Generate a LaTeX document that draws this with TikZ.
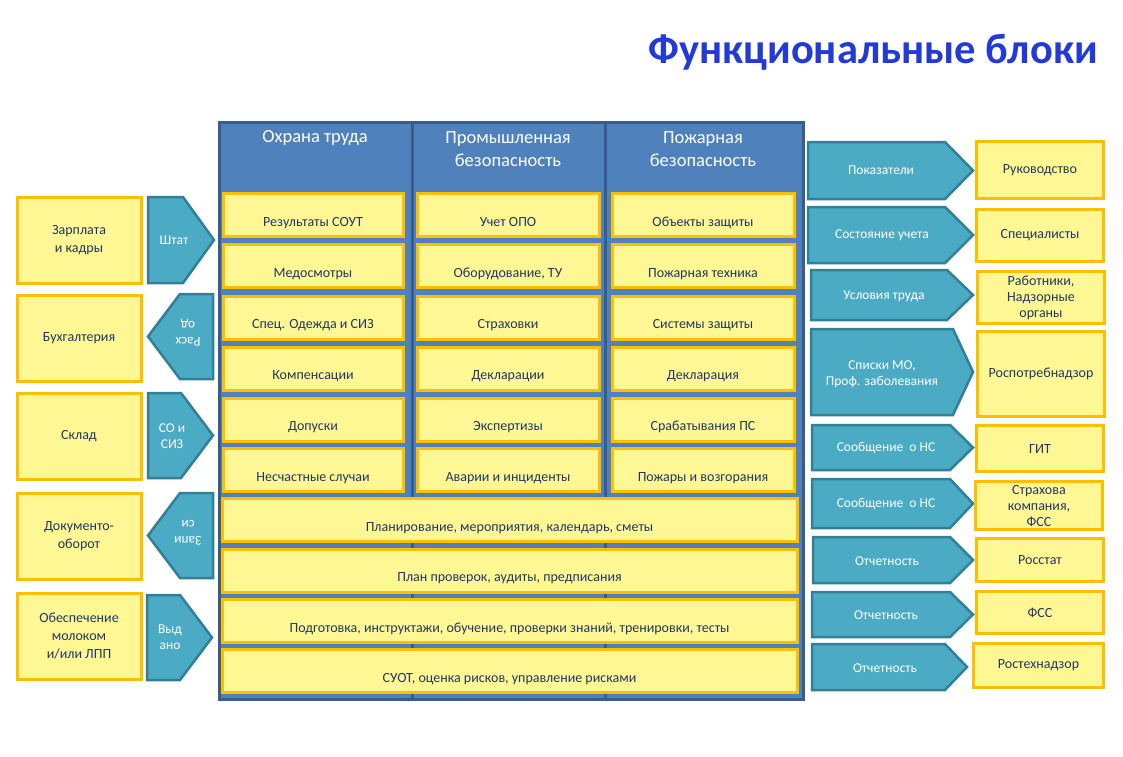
\documentclass[tikz,border=0pt]{standalone}
\usepackage{fontspec}
\setmainfont{Carlito}
\definecolor{panelblue}{RGB}{79,129,189}
\definecolor{paneledge}{RGB}{56,93,138}
\definecolor{yfill}{RGB}{255,246,148}
\definecolor{yedge}{RGB}{255,190,0}
\definecolor{tfill}{RGB}{75,170,196}
\definecolor{tedge}{RGB}{49,128,150}
\definecolor{navy}{RGB}{31,56,100}
\definecolor{titleblue}{RGB}{34,58,216}
\newcommand\myRarrow[5]{\filldraw[tshape] (#1,#4) -- (#2,#4) -- (#3,{(#4+#5)/2}) -- (#2,#5) -- (#1,#5) -- cycle;}
\newcommand\myLarrow[5]{\filldraw[tshape] (#3,#4) -- (#2,#4) -- (#1,{(#4+#5)/2}) -- (#2,#5) -- (#3,#5) -- cycle;}
\tikzset{
  ybox/.style={draw=yedge, fill=yfill, line width=3pt, text=navy, align=center, inner sep=0pt,
    font=\fontsize{14}{16}\selectfont},
  pbox/.style={ybox, minimum height=43, text height=22pt, text depth=0pt},
  wbox/.style={pbox, minimum width=575},
  lbox/.style={ybox, minimum width=124, minimum height=86, font=\fontsize{14}{18}\selectfont},
  rbox/.style={ybox, font=\fontsize{14}{16}\selectfont},
  tshape/.style={draw=tedge, fill=tfill, line width=2.5pt, line join=miter},
  ttext/.style={text=white, align=center, inner sep=0pt, font=\fontsize{13.5}{16}\selectfont},
  htext/.style={text=white, align=center, inner sep=0pt, font=\fontsize{18.5}{23}\selectfont}
}
\begin{document}
\begin{tikzpicture}[x=1pt, y=-1pt]
\useasboundingbox (0,0) rectangle (1123,756);

% title
\node[text=titleblue, font=\fontsize{42.5}{46}\selectfont\bfseries] (title) at (873,52) {Функциональные блоки};

% central panel
\node[draw=paneledge, fill=panelblue, line width=3pt, minimum width=584, minimum height=577, anchor=north west, inner sep=0pt] (panel) at (218,121) {};
\draw[paneledge, line width=3pt] (412,121) -- (412,698);
\draw[paneledge, line width=3pt] (605,121) -- (605,698);

\node[htext] (h1) at (315,138) {Охрана труда};
\node[htext] (h2) at (508,149) {Промышленная\\безопасность};
\node[htext] (h3) at (703,149) {Пожарная\\безопасность};

% column 1
\node[pbox, minimum width=180] (a1) at (313,215) {Результаты СОУТ};
\node[pbox, minimum width=180] (a2) at (313,266) {Медосмотры};
\node[pbox, minimum width=180] (a3) at (313,317.5) {Спец. Одежда и СИЗ};
\node[pbox, minimum width=180] (a4) at (313,368.5) {Компенсации};
\node[pbox, minimum width=180] (a5) at (313,419.5) {Допуски};
\node[pbox, minimum width=180] (a6) at (313,470) {Несчастные случаи};
% column 2
\node[pbox, minimum width=182] (b1) at (508,215) {Учет ОПО};
\node[pbox, minimum width=182] (b2) at (508,266) {Оборудование, ТУ};
\node[pbox, minimum width=182] (b3) at (508,317.5) {Страховки};
\node[pbox, minimum width=182] (b4) at (508,368.5) {Декларации};
\node[pbox, minimum width=182] (b5) at (508,419.5) {Экспертизы};
\node[pbox, minimum width=182] (b6) at (508,470) {Аварии и инциденты};
% column 3
\node[pbox, minimum width=182] (c1) at (703,215) {Объекты защиты};
\node[pbox, minimum width=182] (c2) at (703,266) {Пожарная техника};
\node[pbox, minimum width=182] (c3) at (703,317.5) {Системы защиты};
\node[pbox, minimum width=182] (c4) at (703,368.5) {Декларация};
\node[pbox, minimum width=182] (c5) at (703,419.5) {Срабатывания ПС};
\node[pbox, minimum width=182] (c6) at (703,470) {Пожары и возгорания};
% wide rows
\node[wbox] (w1) at (509.5,520) {Планирование, мероприятия, календарь, сметы};
\node[wbox] (w2) at (509.5,570.5) {План проверок, аудиты, предписания};
\node[wbox] (w3) at (509.5,621) {Подготовка, инструктажи, обучение, проверки знаний, тренировки, тесты};
\node[wbox] (w4) at (509.5,671) {СУОТ, оценка рисков, управление рисками};

% left boxes
\node[lbox] (l1) at (79,240.5) {Зарплата\\и кадры};
\node[lbox] (l2) at (79,338) {Бухгалтерия};
\node[lbox] (l3) at (79,436.5) {Склад};
\node[lbox] (l4) at (79,536.5) {Документо-\\оборот};
\node[lbox] (l5) at (79,636.5) {Обеспечение\\молоком\\и/или ЛПП};

% left arrows
\myRarrow{148}{183}{214}{197}{283}
\node[ttext] (la1) at (174,240) {Штат};
\myLarrow{148}{180}{213}{294}{379}
\node[ttext, rotate=180] (la2) at (188,333) {Расх\\од};
\myRarrow{148}{181}{213}{393}{478}
\node[ttext] (la3) at (172,436) {СО и\\СИЗ};
\myLarrow{148}{180}{213}{493}{578}
\node[ttext, rotate=180] (la4) at (188,533) {Запи\\си};
\myRarrow{147}{180}{212}{595}{680}
\node[ttext] (la5) at (170,637) {Выд\\ано};

% right arrows
\myRarrow{808}{945}{973}{142}{199}
\node[ttext] (ra1) at (881,170) {Показатели};
\myRarrow{808}{945}{973}{207}{263}
\node[ttext] (ra2) at (882,235) {Состояние учета};
\myRarrow{811}{947}{973}{270}{320}
\node[ttext] (ra3) at (884,296) {Условия труда};
\myRarrow{811}{953}{973}{329}{415}
\node[ttext] (ra4) at (882,374) {Списки МО,\\Проф. заболевания};
\myRarrow{812}{950}{973}{425}{470}
\node[ttext] (ra5) at (886,448) {Сообщение~ о НС};
\myRarrow{812}{950}{973}{479}{528}
\node[ttext] (ra6) at (886,504) {Сообщение~ о НС};
\myRarrow{813}{950}{973}{537}{583}
\node[ttext] (ra7) at (887,561) {Отчетность};
\myRarrow{812}{950}{973}{592}{637}
\node[ttext] (ra8) at (886,615) {Отчетность};
\myRarrow{812}{945}{967}{644}{690}
\node[ttext] (ra9) at (885,668) {Отчетность};

% right boxes
\node[rbox, minimum width=127, minimum height=57] (r1) at (1040,170) {Руководство};
\node[rbox, minimum width=127, minimum height=52] (r2) at (1040,235.5) {Специалисты};
\node[rbox, minimum width=127, minimum height=52] (r3) at (1041,297.5) {Работники,\\Надзорные\\органы};
\node[rbox, minimum width=127, minimum height=85] (r4) at (1041,374) {Роспотребнадзор};
\node[rbox, minimum width=127, minimum height=46] (r5) at (1040,448.5) {ГИТ};
\node[rbox, minimum width=127, minimum height=48] (r6) at (1039,505.5) {Страхова\\компания,\\ФСС};
\node[rbox, minimum width=127, minimum height=43] (r7) at (1040,560) {Росстат};
\node[rbox, minimum width=127, minimum height=42] (r8) at (1040,612.5) {ФСС};
\node[rbox, minimum width=130, minimum height=44] (r9) at (1038.5,665.5) {Ростехнадзор};
\end{tikzpicture}
\end{document}
